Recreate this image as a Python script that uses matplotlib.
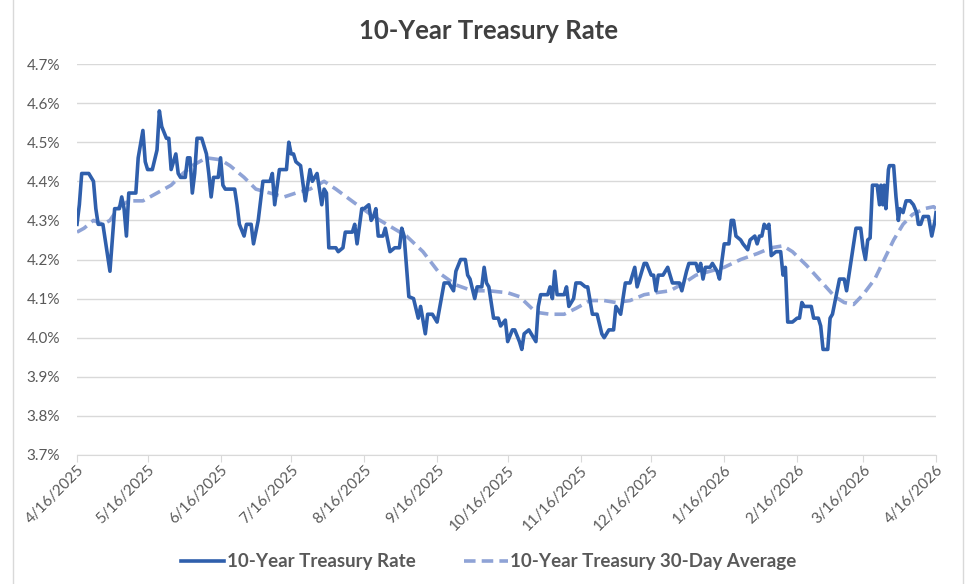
import matplotlib
matplotlib.use("Agg")
import matplotlib.pyplot as plt
from matplotlib.patches import Rectangle
from matplotlib.ticker import FuncFormatter
import pandas as pd

start = pd.Timestamp("2025-04-16")

# daily 10-year rate (days after 4/16/2025, percent)
rate_days = [0, 1, 2, 5, 7, 8, 9, 11, 14, 16, 18, 19, 20, 21, 22, 25, 26, 28, 29, 30,
             32, 34, 35, 36, 38, 39, 40, 42, 43, 44, 46, 47, 48, 49, 50, 51, 53, 55, 56, 57,
             58, 60, 61, 62, 63, 67, 68, 69, 71, 72, 74, 75, 77, 79, 82, 83, 84, 86, 89, 90,
             91, 92, 93, 95, 97, 99, 100, 102, 104, 105, 106, 107, 110, 111, 113, 114, 117, 118, 119, 121,
             122, 124, 125, 126, 127, 128, 130, 131, 133, 135, 137, 138, 139, 141, 143, 145, 146, 148, 149, 151,
             153, 156, 158, 160, 161, 163, 165, 166, 167, 169, 170, 172, 173, 174, 175, 177, 179, 180, 182, 183,
             185, 186, 188, 189, 190, 192, 195, 196, 197, 200, 201, 202, 203, 204, 207, 208, 209, 211, 212, 214,
             216, 217, 219, 221, 223, 224, 226, 228, 229, 231, 233, 235, 237, 238, 240, 241, 242, 244, 245, 246,
             247, 249, 251, 253, 256, 257, 259, 260, 263, 264, 265, 266, 267, 269, 270, 272, 273, 275, 277, 278,
             279, 280, 282, 283, 285, 286, 288, 289, 290, 291, 292, 293, 294, 295, 297, 299, 300, 301, 302, 304,
             306, 307, 308, 309, 312, 313, 315, 316, 317, 319, 320, 321, 323, 324, 326, 327, 328, 330, 331, 333,
             334, 335, 336, 337, 338, 340, 341, 341.6, 342.4, 343, 343.7, 344.8, 345.2, 347, 348, 349, 349.7, 351, 352.3, 354,
             355.4, 356.8, 357.5, 358.5, 359.6, 361.8, 363.2, 364.6, 365]
rate = [4.29, 4.34, 4.42, 4.42, 4.40, 4.33, 4.29, 4.29, 4.17, 4.33, 4.33, 4.36, 4.33, 4.26, 4.37, 4.37, 4.46, 4.53, 4.45, 4.43,
        4.43, 4.48, 4.58, 4.54, 4.51, 4.51, 4.43, 4.47, 4.42, 4.41, 4.41, 4.46, 4.46, 4.37, 4.42, 4.51, 4.51, 4.47, 4.42, 4.36,
        4.41, 4.41, 4.46, 4.39, 4.38, 4.38, 4.34, 4.29, 4.26, 4.29, 4.29, 4.24, 4.30, 4.40, 4.40, 4.42, 4.34, 4.43, 4.43, 4.50,
        4.47, 4.47, 4.45, 4.44, 4.35, 4.43, 4.40, 4.42, 4.34, 4.38, 4.37, 4.23, 4.23, 4.22, 4.23, 4.27, 4.27, 4.29, 4.24, 4.33,
        4.33, 4.34, 4.30, 4.31, 4.33, 4.26, 4.26, 4.28, 4.22, 4.23, 4.23, 4.28, 4.26, 4.105, 4.10, 4.05, 4.08, 4.01, 4.06, 4.06,
        4.04, 4.14, 4.14, 4.12, 4.17, 4.20, 4.20, 4.16, 4.15, 4.10, 4.13, 4.13, 4.18, 4.14, 4.13, 4.05, 4.05, 4.03, 4.045, 3.99,
        4.02, 4.02, 3.99, 3.97, 4.01, 4.02, 3.99, 4.08, 4.11, 4.11, 4.13, 4.10, 4.17, 4.11, 4.11, 4.13, 4.08, 4.10, 4.14, 4.14,
        4.13, 4.13, 4.06, 4.06, 4.01, 4.00, 4.02, 4.02, 4.08, 4.06, 4.14, 4.14, 4.18, 4.13, 4.17, 4.19, 4.19, 4.16, 4.16, 4.12,
        4.16, 4.16, 4.18, 4.14, 4.14, 4.12, 4.17, 4.19, 4.19, 4.17, 4.19, 4.15, 4.18, 4.18, 4.19, 4.17, 4.15, 4.24, 4.24, 4.30,
        4.30, 4.26, 4.25, 4.24, 4.225, 4.25, 4.26, 4.24, 4.26, 4.26, 4.29, 4.28, 4.29, 4.21, 4.22, 4.22, 4.16, 4.18, 4.04, 4.04,
        4.05, 4.05, 4.09, 4.08, 4.08, 4.05, 4.05, 4.03, 3.97, 3.97, 4.05, 4.06, 4.12, 4.15, 4.15, 4.12, 4.16, 4.24, 4.28, 4.28,
        4.23, 4.20, 4.25, 4.255, 4.39, 4.39, 4.34, 4.39, 4.34, 4.39, 4.33, 4.43, 4.44, 4.44, 4.36, 4.30, 4.33, 4.32, 4.35, 4.35,
        4.34, 4.32, 4.29, 4.29, 4.31, 4.31, 4.26, 4.30, 4.32]

# 30-day average
avg_days = [0, 3, 7, 11, 14, 18, 22, 28, 34, 40, 45, 49, 55, 61, 65, 71, 76, 82, 88, 93,
            99, 105, 110, 119, 126, 133, 140, 147, 154, 161, 168, 175, 183, 188, 195, 201, 207, 212, 218, 224,
            229, 235, 241, 246, 252, 258, 263, 269, 275, 282, 289, 295, 300, 304, 310, 316, 322, 326, 330, 334,
            339, 343, 347, 351, 355, 360, 364, 365]
avg = [4.27, 4.28, 4.30, 4.29, 4.30, 4.335, 4.35, 4.35, 4.37, 4.39, 4.42, 4.44, 4.46, 4.455, 4.44, 4.41, 4.38, 4.37, 4.36, 4.37,
       4.38, 4.40, 4.38, 4.34, 4.31, 4.285, 4.26, 4.22, 4.165, 4.135, 4.12, 4.12, 4.115, 4.105, 4.065, 4.06, 4.06, 4.075, 4.095, 4.095,
       4.09, 4.095, 4.11, 4.115, 4.12, 4.14, 4.16, 4.17, 4.18, 4.20, 4.215, 4.23, 4.235, 4.22, 4.185, 4.145, 4.105, 4.09, 4.085, 4.11,
       4.15, 4.20, 4.25, 4.29, 4.315, 4.33, 4.335, 4.33]

tick_dates = ["2025-04-16", "2025-05-16", "2025-06-16", "2025-07-16", "2025-08-16", "2025-09-16", "2025-10-16",
              "2025-11-16", "2025-12-16", "2026-01-16", "2026-02-16", "2026-03-16", "2026-04-16"]
y_ticks = [3.7, 3.8, 3.9, 4.0, 4.1, 4.2, 4.3, 4.4, 4.5, 4.6, 4.7]

rate_dates = start + pd.to_timedelta(rate_days, unit="D")
avg_dates = start + pd.to_timedelta(avg_days, unit="D")
ticks = pd.to_datetime(tick_dates)

plt.rcParams["font.family"] = ["Lato", "DejaVu Sans"]
text_gray = "#595959"

fig = plt.figure(figsize=(9.68, 5.84), dpi=100)
ax = fig.add_axes([77 / 968, 1 - 455 / 584, (936 - 77) / 968, (455 - 64) / 584])

ax.plot(rate_dates, rate, color="#2f5fac", lw=2.6, label="10-Year Treasury Rate", zorder=3)
ax.plot(avg_dates, avg, color="#8fa3d6", lw=2.6, ls=(0, (3.2, 1.7)),
        label="10-Year Treasury 30-Day Average", zorder=2)

ax.set_xlim(ticks[0], ticks[-1])
ax.set_ylim(3.7, 4.7)
ax.set_yticks(y_ticks)
ax.yaxis.set_major_formatter(FuncFormatter(lambda v, p: f"{v:.1f}%"))
ax.set_xticks(ticks)
ax.set_xticklabels([f"{d.month}/{d.day}/{d.year}" for d in ticks], rotation=45,
                   ha="right", rotation_mode="anchor")

ax.grid(axis="y", color="#d9d9d9", lw=1)
ax.set_axisbelow(True)
for s in ["top", "right", "left"]:
    ax.spines[s].set_visible(False)
ax.spines["bottom"].set_color("#d9d9d9")
ax.tick_params(axis="y", length=0, pad=12, labelsize=11, labelcolor=text_gray)
ax.tick_params(axis="x", length=5, color="#d9d9d9", pad=1, labelsize=11, labelcolor=text_gray)

fig.text(0.505, 1 - 31 / 584, "10-Year Treasury Rate", ha="center", va="center",
         fontsize=18.5, fontweight="bold", color="#404040")
fig.legend(loc="center", bbox_to_anchor=(0.505, 1 - 562 / 584), ncol=2, frameon=False,
           prop={"size": 13.5, "weight": "bold"}, labelcolor=text_gray, handlelength=2.3,
           handletextpad=0.15, columnspacing=2.6)

fig.patches.append(Rectangle((13 / 968, -0.02), (963 - 13) / 968, 1.04, transform=fig.transFigure,
                             fill=False, edgecolor="#d9d9d9", lw=1))

fig.savefig("out.png", dpi=100)
